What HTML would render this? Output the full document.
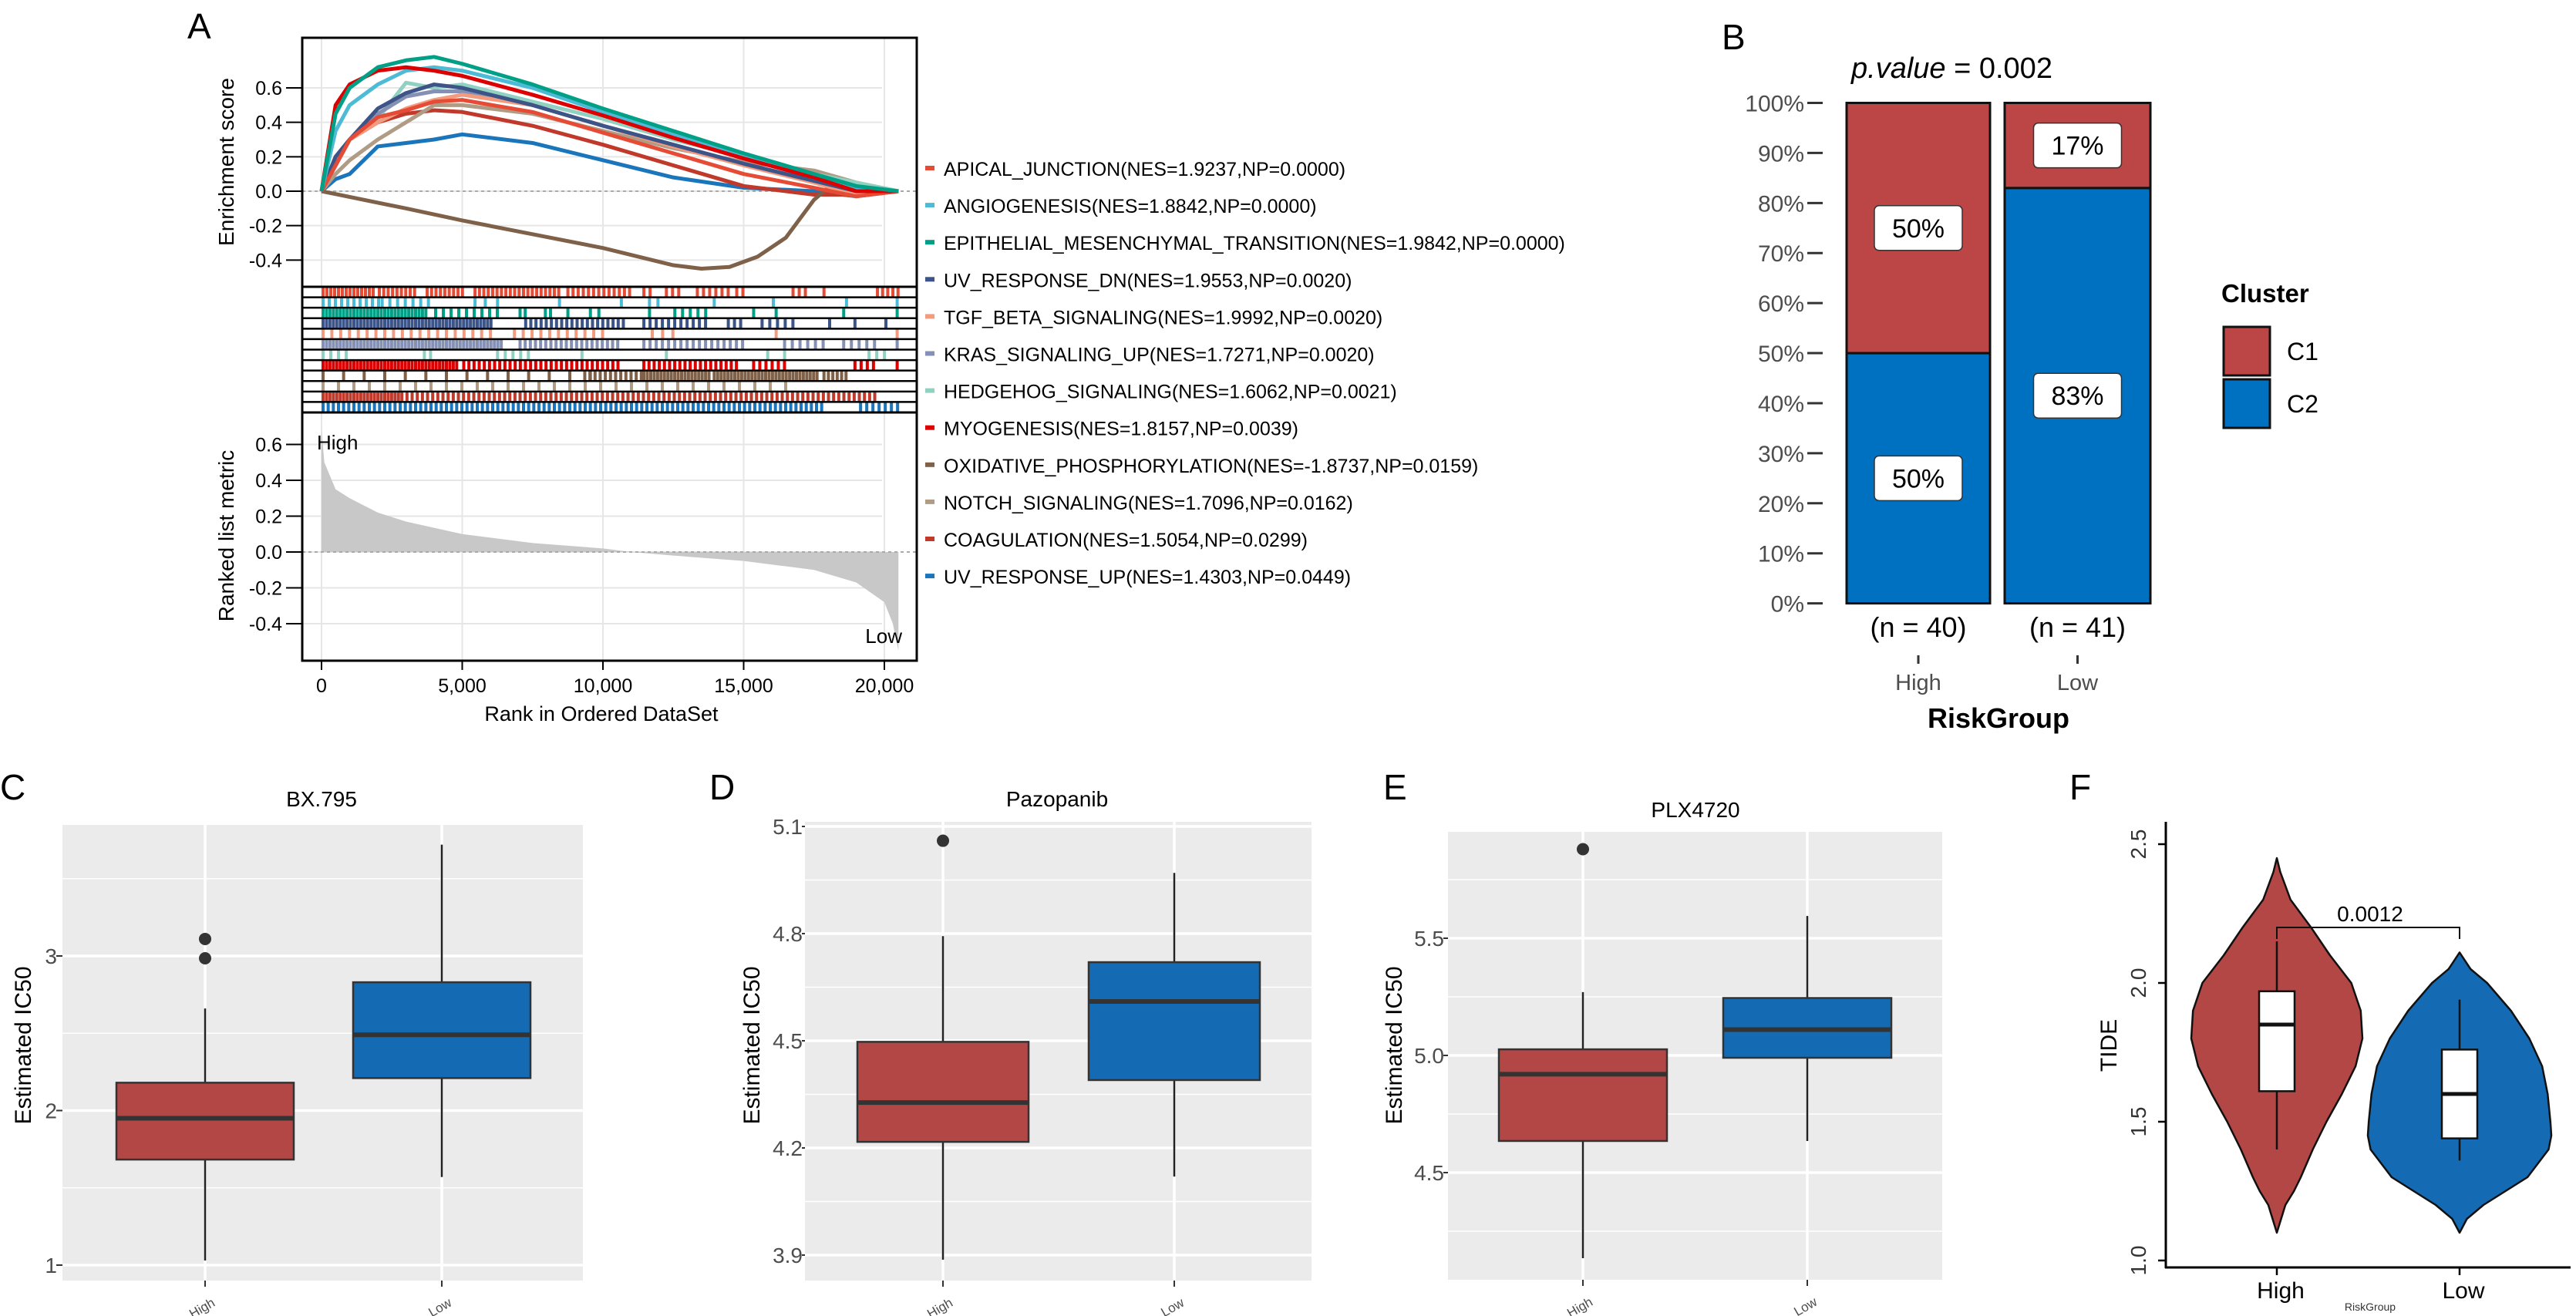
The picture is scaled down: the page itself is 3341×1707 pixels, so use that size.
<!DOCTYPE html>
<html><head><meta charset="utf-8"><style>
html,body{margin:0;padding:0;background:#fff;}
svg{display:block;font-family:"Liberation Sans",Arial,sans-serif;}
</style></head><body>
<svg id="fig" width="3341" height="1707" viewBox="0 0 3341 1707" xmlns="http://www.w3.org/2000/svg">
<g id="gA"></g>
<g id="gB"></g>
<g id="gC"></g>
<g id="gD"></g>
<g id="gE"></g>
<g id="gF"></g>
</svg>
<script>
// ---------- Panel A data ----------
const esRanks = [0,500,1000,2000,3000,4000,5000,7500,10000,12500,15000,17500,19000,20500];
const setNames = ["APICAL_JUNCTION(NES=1.9237,NP=0.0000)","ANGIOGENESIS(NES=1.8842,NP=0.0000)","EPITHELIAL_MESENCHYMAL_TRANSITION(NES=1.9842,NP=0.0000)","UV_RESPONSE_DN(NES=1.9553,NP=0.0020)","TGF_BETA_SIGNALING(NES=1.9992,NP=0.0020)","KRAS_SIGNALING_UP(NES=1.7271,NP=0.0020)","HEDGEHOG_SIGNALING(NES=1.6062,NP=0.0021)","MYOGENESIS(NES=1.8157,NP=0.0039)","OXIDATIVE_PHOSPHORYLATION(NES=-1.8737,NP=0.0159)","NOTCH_SIGNALING(NES=1.7096,NP=0.0162)","COAGULATION(NES=1.5054,NP=0.0299)","UV_RESPONSE_UP(NES=1.4303,NP=0.0449)"];
const setColors = ["#E64B35","#4DBBD5","#00A087","#3C5488","#F39B7F","#8491B4","#91D1C2","#DC0000","#7E6148","#B09C85","#C0392B","#1B75BB"];
const esApical = [0,0.15,0.30,0.43,0.47,0.52,0.53,0.46,0.34,0.22,0.10,0.02,-0.03,0];
const esAngio  = [0,0.35,0.50,0.62,0.70,0.72,0.70,0.60,0.46,0.33,0.20,0.08,0.02,0];
const esEmt    = [0,0.45,0.60,0.72,0.76,0.78,0.74,0.62,0.48,0.35,0.22,0.10,0.03,0];
const esUvDn   = [0,0.20,0.30,0.48,0.57,0.62,0.60,0.50,0.38,0.27,0.16,0.06,0.00,0];
const esTgf    = [0,0.20,0.30,0.40,0.48,0.53,0.56,0.50,0.38,0.26,0.15,0.05,-0.02,0];
const esKras   = [0,0.15,0.30,0.45,0.55,0.58,0.58,0.50,0.38,0.27,0.16,0.06,0.00,0];
const esHedge  = [0,0.20,0.30,0.42,0.63,0.60,0.62,0.52,0.42,0.30,0.20,0.10,0.05,0];
const esMyo    = [0,0.50,0.62,0.70,0.72,0.70,0.67,0.56,0.44,0.31,0.19,0.08,0.00,0];
const esOxRanks = [0,3000,5000,7500,10000,12500,13500,14500,15500,16500,17500,18000,19000,20500];
const esOx     = [0,-0.10,-0.17,-0.25,-0.33,-0.43,-0.45,-0.44,-0.38,-0.27,-0.05,0.02,0.04,0];
const esNotch  = [0,0.10,0.18,0.30,0.40,0.50,0.50,0.45,0.35,0.25,0.17,0.12,0.05,0];
const esCoag   = [0,0.15,0.30,0.40,0.45,0.47,0.46,0.38,0.27,0.15,0.03,-0.02,-0.02,0];
const esUvUp   = [0,0.07,0.10,0.26,0.28,0.30,0.33,0.28,0.18,0.08,0.02,0.00,-0.03,0];
// rug hit runs, in hundreds of rank: [start,end,density 0..1]
const rugRuns = [
 [[0,18,0.8],[20,34,0.7],[37,51,0.7],[54,84,0.7],[87,109,0.6],[114,118,0.5],[122,128,0.5],[133,144,0.5],[147,150,0.5],[167,172,0.5],[178,179,0.8],[197,205,0.6]],
 [[0,20,0.5],[21,39,0.4],[54,58,0.3],[62,63,0.8],[84,85,0.8],[106,107,0.8],[116,117,0.8],[119,120,0.8],[139,140,0.8],[160,161,0.8],[186,187,0.8],[204,205,0.8]],
 [[0,37,0.9],[40,62,0.4],[70,73,0.6],[79,82,0.6],[87,88,0.8],[95,96,0.8],[98,99,0.8],[116,117,0.8],[125,138,0.4],[153,154,0.8],[161,162,0.8],[185,186,0.8],[204,205,0.8]],
 [[0,60,0.9],[72,108,0.6],[114,138,0.5],[144,150,0.5],[156,169,0.4],[180,181,0.8],[189,190,0.8],[200,201,0.8]],
 [[0,62,0.35],[68,100,0.35],[117,125,0.3],[161,162,0.8],[204,205,0.8]],
 [[0,64,0.9],[70,106,0.6],[114,150,0.5],[164,180,0.4],[185,196,0.4],[204,205,0.8]],
 [[0,10,0.4],[36,40,0.5],[62,73,0.4],[92,93,0.8],[122,123,0.8],[158,159,0.8],[164,165,0.8],[194,200,0.4]],
 [[0,48,0.9],[50,106,0.6],[114,147,0.6],[153,166,0.5],[189,197,0.5],[204,205,0.8]],
 [[0,100,0.15],[93,114,0.6],[114,138,0.9],[139,176,0.9],[178,186,0.7]],
 [[0,165,0.2]],
 [[0,28,0.9],[28,197,0.6]],
 [[0,178,0.6],[191,205,0.5]]
];
const rankedRanks = [0,100,500,1000,2000,3000,5000,7500,10000,11000,12500,15000,17500,19000,20000,20300,20500];
const rankedVals  = [0.68,0.50,0.35,0.30,0.22,0.17,0.10,0.05,0.02,0.0,-0.02,-0.05,-0.10,-0.17,-0.28,-0.40,-0.55];
const rankTicks = [0,5000,10000,15000,20000];
const rankTickLabels = ["0","5,000","10,000","15,000","20,000"];
const esTicks = [-0.4,-0.2,0.0,0.2,0.4,0.6];
const metricTicks = [-0.4,-0.2,0.0,0.2,0.4,0.6];

// ---------- Panel B data ----------
const bGroups = ["High","Low"];
const bCounts = ["(n = 40)","(n = 41)"];
const bC1 = [50,17];
const bC2 = [50,83];
const bTicks = [0,10,20,30,40,50,60,70,80,90,100];

// ---------- Panels C-E data ----------
const boxGroups = ["High","Low"];
const bxHigh = [1.03,1.683,1.95,2.18,2.66];
const bxLow  = [1.57,2.21,2.49,2.83,3.72];
const bxOut  = [3.11,2.985];
const bxTicks = [1,2,3];
const pzHigh = [3.887,4.217,4.327,4.497,4.793];
const pzLow  = [4.12,4.39,4.61,4.72,4.97];
const pzOut  = [5.06];
const pzTicks = [3.9,4.2,4.5,4.8,5.1];
const plHigh = [4.135,4.635,4.92,5.026,5.27];
const plLow  = [4.635,4.99,5.11,5.245,5.595];
const plOut  = [5.88];
const plTicks = [4.5,5.0,5.5];

// ---------- Panel F data ----------
const vHighVals = [1.10,1.2,1.25,1.3,1.4,1.5,1.6,1.7,1.8,1.9,2.0,2.1,2.2,2.3,2.4,2.45];
const vHighW    = [0,0.1,0.2,0.28,0.42,0.58,0.76,0.92,1.0,0.98,0.87,0.62,0.4,0.16,0.04,0];
const vLowVals  = [1.10,1.15,1.2,1.3,1.4,1.45,1.5,1.6,1.7,1.8,1.9,2.0,2.05,2.11];
const vLowW     = [0,0.08,0.26,0.74,0.97,1.0,0.99,0.96,0.9,0.76,0.56,0.3,0.12,0];
const tideHighBox = [1.40,1.61,1.85,1.97,2.15];
const tideLowBox  = [1.36,1.44,1.60,1.76,1.94];
const tideTicks = [1.0,1.5,2.0,2.5];
const tideP = "0.0012";

const NS="http://www.w3.org/2000/svg";
function mk(parent,tag,attrs,text){const e=document.createElementNS(NS,tag);for(const k in attrs)e.setAttribute(k,attrs[k]);if(text!==undefined)e.textContent=text;parent.appendChild(e);return e;}

// ================= Panel A =================
(function(){
 const g=document.getElementById('gA');
 const xr=r=>417+r*(1147-417)/20000;
 const yES=v=>248-v*223.3;
 const yRM=v=>716-v*232.5;
 let t=mk(g,'text',{x:243,y:50,'font-size':46},'A');
 
 
 esTicks.forEach(v=>{const l=mk(g,'line',{x1:392,x2:1144,y1:yES(v),y2:yES(v),stroke:'#e6e6e6','stroke-width':2});
  
  const k=mk(g,'line',{x1:371,x2:392,y1:yES(v),y2:yES(v),stroke:'#000','stroke-width':2});
  
  const tx=mk(g,'text',{x:366,y:yES(v)+9,'font-size':25,'text-anchor':'end'},v.toFixed(1));
  });
 metricTicks.forEach(v=>{const l=mk(g,'line',{x1:392,x2:1144,y1:yRM(v),y2:yRM(v),stroke:'#e6e6e6','stroke-width':2});
  
  const k=mk(g,'line',{x1:371,x2:392,y1:yRM(v),y2:yRM(v),stroke:'#000','stroke-width':2});
  
  const tx=mk(g,'text',{x:366,y:yRM(v)+9,'font-size':25,'text-anchor':'end'},v.toFixed(1));
  });
 rankTicks.forEach((r,i)=>{
  const l1=mk(g,'line',{x1:xr(r),x2:xr(r),y1:49,y2:372,stroke:'#e6e6e6','stroke-width':2});
  
  const l2=mk(g,'line',{x1:xr(r),x2:xr(r),y1:535,y2:857,stroke:'#e6e6e6','stroke-width':2});
  
  const k=mk(g,'line',{x1:xr(r),x2:xr(r),y1:857,y2:869,stroke:'#000','stroke-width':2});
  
  const tx=mk(g,'text',{x:xr(r),y:898,'font-size':25,'text-anchor':'middle'},rankTickLabels[i]);
  });
 const z1=mk(g,'line',{x1:392,x2:1189,y1:yES(0),y2:yES(0),stroke:'#aaa','stroke-width':2,'stroke-dasharray':'4 4'});
 
 let d=`M${xr(rankedRanks[0])},${yRM(0)}`;
 rankedRanks.forEach((r,i)=>{d+=` L${xr(r)},${yRM(rankedVals[i])}`;});
 d+=` L${xr(rankedRanks[rankedRanks.length-1])},${yRM(0)} Z`;
 const ar=mk(g,'path',{d:d,fill:'#c8c8c8',stroke:'none'});
 
 const z2=mk(g,'line',{x1:392,x2:1189,y1:yRM(0),y2:yRM(0),stroke:'#aaa','stroke-width':2,'stroke-dasharray':'4 4'});
 
 const series=[esApical,esAngio,esEmt,esUvDn,esTgf,esKras,esHedge,esMyo,esOx,esNotch,esCoag,esUvUp];
 const order=[11,10,9,8,6,5,4,3,0,1,7,2];
 order.forEach(i=>{const rr=(i===8)?esOxRanks:esRanks;const vals=series[i];
  const pts=rr.map((r,j)=>`${xr(r)},${yES(vals[j])}`).join(' ');
  const p=mk(g,'polyline',{points:pts,fill:'none',stroke:setColors[i],'stroke-width':5,'stroke-linejoin':'round'});
  });
 const rowH=(535-372)/12;
 rugRuns.forEach((runs,ri)=>{const y0=372+ri*rowH;
  runs.forEach(run=>{const x0=xr(run[0]*100),x1=xr(run[1]*100);const step=Math.max(3,4/run[2]);
   for(let x=x0;x<=Math.max(x0,x1);x+=step){const r=mk(g,'rect',{x:x,y:y0+1,width:4,height:rowH-2,fill:setColors[ri]});
    }});
  const sep=mk(g,'line',{x1:392,x2:1189,y1:y0,y2:y0,stroke:'#000','stroke-width':2.5});
  });
 [[49,372],[372,535],[535,857]].forEach(b=>{const r=mk(g,'rect',{x:392,y:b[0],width:797,height:b[1]-b[0],fill:'none',stroke:'#000','stroke-width':3});
  });
 t=mk(g,'text',{x:0,y:0,'font-size':28,'text-anchor':'middle',transform:'translate(303,210) rotate(-90)'},'Enrichment score');
 
 t=mk(g,'text',{x:0,y:0,'font-size':28,'text-anchor':'middle',transform:'translate(303,695) rotate(-90)'},'Ranked list metric');
 
 t=mk(g,'text',{x:780,y:935,'font-size':27,'text-anchor':'middle'},'Rank in Ordered DataSet');
 
 t=mk(g,'text',{x:411,y:583,'font-size':26},'High');
 
 t=mk(g,'text',{x:1170,y:834,'font-size':26,'text-anchor':'end'},'Low');
 
 setNames.forEach((n,i)=>{const y=219+i*48.1;
  const k=mk(g,'rect',{x:1200,y:y-4,width:12,height:6,fill:setColors[i]});
  
  const tx=mk(g,'text',{x:1224,y:y+9,'font-size':25},n);
  });
})();

// ================= Panel B =================
(function(){
 const g=document.getElementById('gB');
 const y=v=>782.6-v*(782.6-133.5)/100;
 const bx=[[2395,2581],[2600,2789]];
 let t=mk(g,'text',{x:2233,y:64,'font-size':46},'B');
 
 t=mk(g,'text',{x:2401,y:101,'font-size':38});
 
 mk(t,'tspan',{'font-style':'italic'},'p.value');
 mk(t,'tspan',{},' = 0.002');
 bTicks.forEach(v=>{const k=mk(g,'line',{x1:2344,x2:2364,y1:y(v),y2:y(v),stroke:'#333','stroke-width':3});
  
  const tx=mk(g,'text',{x:2340,y:y(v)+11,'font-size':30,'text-anchor':'end',fill:'#4d4d4d'},v+'%');
  });
 bGroups.forEach((gname,i)=>{const [x0,x1]=bx[i];const cx=(x0+x1)/2;
  const r2=mk(g,'rect',{x:x0,y:y(bC2[i]),width:x1-x0,height:y(0)-y(bC2[i]),fill:'#0070C0',stroke:'#111','stroke-width':3});
  
  const r1=mk(g,'rect',{x:x0,y:y(bC2[i]+bC1[i]),width:x1-x0,height:y(bC2[i])-y(bC2[i]+bC1[i]),fill:'#BC4646',stroke:'#111','stroke-width':3});
  
  [[bC2[i]/2,bC2[i]],[bC2[i]+bC1[i]/2,bC1[i]]].forEach(p=>{const cy=y(p[0]);
   const lb=mk(g,'rect',{x:cx-57,y:cy-29,width:114,height:58,rx:6,fill:'#fff',stroke:'#333','stroke-width':1.5});
   
   const lt=mk(g,'text',{x:cx,y:cy+12,'font-size':34,'text-anchor':'middle'},p[1]+'%');
   });
  const nt=mk(g,'text',{x:cx,y:826,'font-size':36,'text-anchor':'middle'},bCounts[i]);
  
  const k=mk(g,'line',{x1:cx,x2:cx,y1:850,y2:861,stroke:'#333','stroke-width':3});
  
  const gl=mk(g,'text',{x:cx,y:895,'font-size':29,'text-anchor':'middle',fill:'#4d4d4d'},gname);
  });
 t=mk(g,'text',{x:2592,y:944,'font-size':36,'font-weight':'bold','text-anchor':'middle'},'RiskGroup');
 
 t=mk(g,'text',{x:2881,y:392,'font-size':33,'font-weight':'bold'},'Cluster');
 
 [['C1','#BC4646',424],['C2','#0070C0',492]].forEach(c=>{
  const r=mk(g,'rect',{x:2884,y:c[2],width:60,height:63,fill:c[1],stroke:'#111','stroke-width':3});
  
  const tx=mk(g,'text',{x:2966,y:c[2]+43,'font-size':32},c[0]);
  });
})();

// ================= Boxplots C-E =================
function boxPanel(gid,letter,lx,title,tcx,tcy,x0,x1,py0,py1,yfun,ticks,tickFmt,minorTicks,centers,halfW,stats,outs,titleX,tickRight){
 const g=document.getElementById(gid);
 let t=mk(g,'text',{x:lx,y:1037,'font-size':46},letter);
 
 t=mk(g,'text',{x:tcx,y:tcy,'font-size':28,'text-anchor':'middle'},title);
 
 const bg=mk(g,'rect',{x:x0,y:py0,width:x1-x0,height:py1-py0,fill:'#EBEBEB'});
 
 minorTicks.forEach(v=>{const l=mk(g,'line',{x1:x0,x2:x1,y1:yfun(v),y2:yfun(v),stroke:'#fff','stroke-width':1.5});
  });
 ticks.forEach(v=>{const l=mk(g,'line',{x1:x0,x2:x1,y1:yfun(v),y2:yfun(v),stroke:'#fff','stroke-width':3.5});
  
  const k=mk(g,'line',{x1:tickRight-1,x2:x0,y1:yfun(v),y2:yfun(v),stroke:'#333','stroke-width':2});
  
  const tx=mk(g,'text',{x:tickRight,y:yfun(v)+10,'font-size':28,'text-anchor':'end',fill:'#4d4d4d'},tickFmt(v));
  });
 centers.forEach(cx=>{const l=mk(g,'line',{x1:cx,x2:cx,y1:py0,y2:py1,stroke:'#fff','stroke-width':3.5});
  });
 const cols=['#B24745','#156BB3'];
 stats.forEach((s,i)=>{const cx=centers[i];
  const w=mk(g,'line',{x1:cx,x2:cx,y1:yfun(s[0]),y2:yfun(s[4]),stroke:'#222','stroke-width':2.5});
  
  const b=mk(g,'rect',{x:cx-halfW,y:yfun(s[3]),width:2*halfW,height:yfun(s[1])-yfun(s[3]),fill:cols[i],stroke:'#333','stroke-width':2.5});
  
  const m=mk(g,'line',{x1:cx-halfW,x2:cx+halfW,y1:yfun(s[2]),y2:yfun(s[2]),stroke:'#333','stroke-width':6});
  
  const k=mk(g,'line',{x1:cx,x2:cx,y1:py1,y2:py1+8,stroke:'#333','stroke-width':2});
  
  const tx=mk(g,'text',{x:0,y:0,'font-size':17,'text-anchor':'end',fill:'#4d4d4d',transform:`translate(${cx+14},${py1+32}) rotate(-30)`},boxGroups[i]);
  });
 outs.forEach(v=>{const c=mk(g,'circle',{cx:centers[0],cy:yfun(v),r:8,fill:'#333'});
  });
 t=mk(g,'text',{x:0,y:0,'font-size':30,'text-anchor':'middle',transform:`translate(${titleX},1356) rotate(-90)`},'Estimated IC50');
 
}
boxPanel('gC','C',0,'BX.795',417,1046,81,756,1070,1661,v=>1641-(v-1)*200.5,bxTicks,v=>String(v),[1.5,2.5,3.5],[266,573],115,[bxHigh,bxLow],bxOut,40,74);
boxPanel('gD','D',920,'Pazopanib',1371,1046,1044,1701,1066,1661,v=>1628-(v-3.9)*(139/0.3),pzTicks,v=>v.toFixed(1),[4.05,4.35,4.65,4.95],[1223,1523],111,[pzHigh,pzLow],pzOut,985,1041);
boxPanel('gE','E',1794,'PLX4720',2199,1060,1878,2519,1079,1660,v=>1369-(v-5.0)*304,plTicks,v=>v.toFixed(1),[4.25,4.75,5.25,5.75],[2053,2344],109,[plHigh,plLow],plOut,1818,1873);

// ================= Panel F =================
(function(){
 const g=document.getElementById('gF');
 const y=v=>1635-(v-1.0)*360;
 let t=mk(g,'text',{x:2684,y:1037,'font-size':46},'F');
 
 const ya=mk(g,'line',{x1:2809,x2:2809,y1:1066,y2:1645,stroke:'#000','stroke-width':3});
 
 const xa=mk(g,'line',{x1:2808,x2:3334,y1:1644,y2:1644,stroke:'#000','stroke-width':3});
 
 tideTicks.forEach(v=>{const k=mk(g,'line',{x1:2799,x2:2809,y1:y(v),y2:y(v),stroke:'#000','stroke-width':2.5});
  
  const tx=mk(g,'text',{x:0,y:0,'font-size':28,'text-anchor':'middle',fill:'#333',transform:`translate(2783,${y(v)}) rotate(-90)`},v.toFixed(1));
  });
 t=mk(g,'text',{x:0,y:0,'font-size':30,'text-anchor':'middle',transform:'translate(2745,1356) rotate(-90)'},'TIDE');
 
 const groups=[[2953,111,vHighVals,vHighW,'#B24745',tideHighBox,'High'],[3190,119,vLowVals,vLowW,'#156BB3',tideLowBox,'Low']];
 groups.forEach(gr=>{const [cx,hw,vals,ws,col,bs,name]=gr;
  let right=vals.map((v,i)=>`${cx+ws[i]*hw},${y(v)}`);
  let left=vals.map((v,i)=>`${cx-ws[i]*hw},${y(v)}`).reverse();
  const p=mk(g,'polygon',{points:right.concat(left).join(' '),fill:col,stroke:'#111','stroke-width':2.5,'stroke-linejoin':'round'});
  
  const w=mk(g,'line',{x1:cx,x2:cx,y1:y(bs[0]),y2:y(bs[4]),stroke:'#111','stroke-width':2.5});
  
  const b=mk(g,'rect',{x:cx-23,y:y(bs[3]),width:46,height:y(bs[1])-y(bs[3]),fill:'#fff',stroke:'#111','stroke-width':2.5});
  
  const m=mk(g,'line',{x1:cx-23,x2:cx+23,y1:y(bs[2]),y2:y(bs[2]),stroke:'#111','stroke-width':5});
  
  const k=mk(g,'line',{x1:cx,x2:cx,y1:1644,y2:1654,stroke:'#000','stroke-width':2.5});
  
  const tx=mk(g,'text',{x:cx+5,y:1684,'font-size':30,'text-anchor':'middle'},name);
  });
 const br=mk(g,'polyline',{points:`2953,1218 2953,1203 3190,1203 3190,1218`,fill:'none',stroke:'#111','stroke-width':2});
 
 t=mk(g,'text',{x:3074,y:1195,'font-size':28,'text-anchor':'middle'},tideP);
 
 t=mk(g,'text',{x:3074,y:1700,'font-size':14,'text-anchor':'middle',fill:'#333'},'RiskGroup');
 
})();
</script>
</body></html>
